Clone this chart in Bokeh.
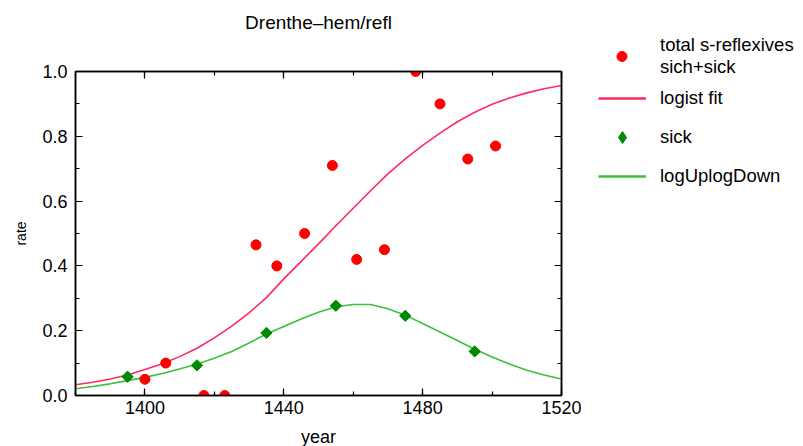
import numpy as np
from bokeh.plotting import figure
from bokeh.layouts import row, column
from bokeh.models import (ColumnDataSource, LinearAxis, SingleIntervalTicker, Range1d, Label,
                          PrintfTickFormatter, CustomJSTickFormatter, Legend, LegendItem)
from bokeh.embed import file_html
from bokeh.resources import INLINE

# ---- data ----
total_years = [1400, 1406, 1417, 1423, 1432, 1438, 1446, 1454, 1461, 1469, 1478, 1485, 1493, 1501]
total_rate = [0.05, 0.10, 0.0, 0.0, 0.465, 0.40, 0.50, 0.71, 0.42, 0.45, 1.0, 0.90, 0.73, 0.77]

sick_years = [1395, 1415, 1435, 1455, 1475, 1495]
sick_rate = [0.058, 0.093, 0.193, 0.277, 0.246, 0.136]

curve_years = [1380, 1385, 1390, 1395, 1400, 1405, 1410, 1415, 1420, 1425, 1430, 1435, 1440,
               1445, 1450, 1455, 1460, 1465, 1470, 1475, 1480, 1485, 1490, 1495, 1500, 1505,
               1510, 1515, 1520]
logist_fit = [0.033, 0.041, 0.051, 0.063, 0.080, 0.098, 0.120, 0.146, 0.178, 0.214, 0.255,
              0.302, 0.360, 0.414, 0.468, 0.524, 0.578, 0.632, 0.684, 0.730, 0.772, 0.810,
              0.845, 0.874, 0.899, 0.918, 0.934, 0.947, 0.957]
logup_logdown = [0.021, 0.028, 0.036, 0.046, 0.056, 0.068, 0.082, 0.097, 0.115, 0.136, 0.162,
                 0.190, 0.213, 0.236, 0.257, 0.274, 0.281, 0.281, 0.268, 0.248, 0.222, 0.196,
                 0.170, 0.143, 0.119, 0.097, 0.078, 0.063, 0.051]

title_text = "Drenthe\u2013hem/refl"
legend_labels = ["total s-reflexives\nsich+sick", "logist fit", "sick", "logUplogDown"]

x_ticks_interval = 40
y_ticks_interval = 0.2

FONT = "Liberation Sans"
FIT_COLOR = "#ff2a5f"
LUD_COLOR = "#3cbf3c"
TOT_COLOR = "#ff0000"
SICK_COLOR = "#008a00"


def bare_figure(w, h, **kw):
    f = figure(width=w, height=h, output_backend="svg", toolbar_location=None,
               x_range=Range1d(0, 1), y_range=Range1d(0, 1),
               min_border_left=0, min_border_right=0, min_border_top=0, min_border_bottom=0,
               x_axis_type=None, y_axis_type=None, **kw)
    f.grid.visible = False
    f.outline_line_color = None
    f.background_fill_color = "white"
    f.border_fill_color = "white"
    f.frame_align = False
    return f


# ---- title strip ----
tp = bare_figure(581, 40)
tp.title.visible = False
tp.add_layout(Label(x=318, y=18, x_units="screen", y_units="screen", text=title_text,
                    text_align="center", text_baseline="middle", text_font=FONT,
                    text_font_size="19px", text_color="black"))

# ---- main plot ----
p = figure(output_backend="svg", toolbar_location=None,
           x_range=Range1d(1380, 1520), y_range=Range1d(0, 1.0),
           frame_width=486, frame_height=324,
           min_border_left=75, min_border_top=31, min_border_right=20, min_border_bottom=51,
           x_axis_type=None, y_axis_type=None)
p.frame_align = False
p.grid.visible = False
p.outline_line_color = "black"
p.outline_line_width = 1.5
p.background_fill_color = "white"
p.border_fill_color = "white"
p.title.visible = False


def style_axis(ax, labels=True):
    ax.axis_line_color = "black"
    ax.axis_line_width = 1.5
    ax.major_tick_in = 7
    ax.major_tick_out = 0
    ax.minor_tick_in = 4
    ax.minor_tick_out = 0
    ax.major_tick_line_width = 1.2
    ax.minor_tick_line_width = 1.2
    ax.major_label_text_font = FONT
    ax.major_label_text_font_size = "18px"
    ax.major_label_text_color = "black"
    ax.axis_label_text_font = FONT
    ax.axis_label_text_font_size = "18px"
    ax.axis_label_text_font_style = "normal"
    ax.axis_label_text_color = "black"
    if not labels:
        ax.formatter = CustomJSTickFormatter(code="return ''")
        ax.major_label_standoff = 0


xb = LinearAxis(ticker=SingleIntervalTicker(interval=x_ticks_interval, num_minor_ticks=2),
                axis_label="year")
style_axis(xb)
xb.major_label_standoff = 5
xb.axis_label_standoff = 10
p.add_layout(xb, "below")

xt = LinearAxis(ticker=SingleIntervalTicker(interval=x_ticks_interval, num_minor_ticks=2))
style_axis(xt, labels=False)
p.add_layout(xt, "above")

yl = LinearAxis(ticker=SingleIntervalTicker(interval=y_ticks_interval, num_minor_ticks=2),
                axis_label="rate", formatter=PrintfTickFormatter(format="%.1f"))
style_axis(yl)
yl.major_label_standoff = 8
yl.axis_label_standoff = 10
yl.axis_label_text_font_size = "14px"
p.add_layout(yl, "left")

yr = LinearAxis(ticker=SingleIntervalTicker(interval=y_ticks_interval, num_minor_ticks=2))
style_axis(yr, labels=False)
p.add_layout(yr, "right")

curve_src = ColumnDataSource(dict(year=curve_years, fit=logist_fit, lud=logup_logdown))
tot_src = ColumnDataSource(dict(year=total_years, rate=total_rate))
sick_src = ColumnDataSource(dict(year=sick_years, rate=sick_rate))

p.line("year", "fit", source=curve_src, line_color=FIT_COLOR, line_width=1.6)
p.line("year", "lud", source=curve_src, line_color=LUD_COLOR, line_width=1.6)
p.scatter("year", "rate", source=tot_src, marker="circle", size=10,
          fill_color=TOT_COLOR, line_color=TOT_COLOR)
p.scatter("year", "rate", source=sick_src, marker="square", angle=np.pi / 4, size=8,
          fill_color=SICK_COLOR, line_color=SICK_COLOR)

# ---- legend panel ----
lp = bare_figure(222, 446)
lp.title.visible = False
# legend-only renderers (their single point lies outside the visible ranges)
off = ColumnDataSource(dict(x=[-5], y=[-5]))
g_tot = lp.scatter("x", "y", source=off, marker="circle", size=10,
                   fill_color=TOT_COLOR, line_color=TOT_COLOR)
g_fit = lp.line("x", "y", source=off, line_color=FIT_COLOR, line_width=2.4)
g_sick = lp.scatter("x", "y", source=off, marker="diamond", size=12,
                    fill_color=SICK_COLOR, line_color=SICK_COLOR)
g_lud = lp.line("x", "y", source=off, line_color=LUD_COLOR, line_width=2.4)


def make_legend(label, renderer, loc, gw, gh, lh, standoff):
    lg = Legend(items=[LegendItem(label=label, renderers=[renderer], index=0)], location=loc,
                orientation="vertical", padding=0, margin=0, spacing=0,
                glyph_width=gw, glyph_height=gh, label_height=lh, label_standoff=standoff,
                label_text_font=FONT, label_text_font_size="18.5px",
                label_text_color="black", border_line_color=None,
                background_fill_alpha=0, label_text_line_height=1.08)
    lp.add_layout(lg, "center")


make_legend(legend_labels[0], g_tot, (28, 368), 25, 40, 40, 26)
make_legend(legend_labels[1], g_fit, (17, 337), 48, 20, 20, 14)
make_legend(legend_labels[2], g_sick, (17, 294), 48, 30, 30, 14)
make_legend(legend_labels[3], g_lud, (17, 259), 48, 20, 20, 14)

layout = row(column(tp, p, spacing=0), lp, spacing=0)
open("out.html", "w").write(file_html(layout, INLINE))
